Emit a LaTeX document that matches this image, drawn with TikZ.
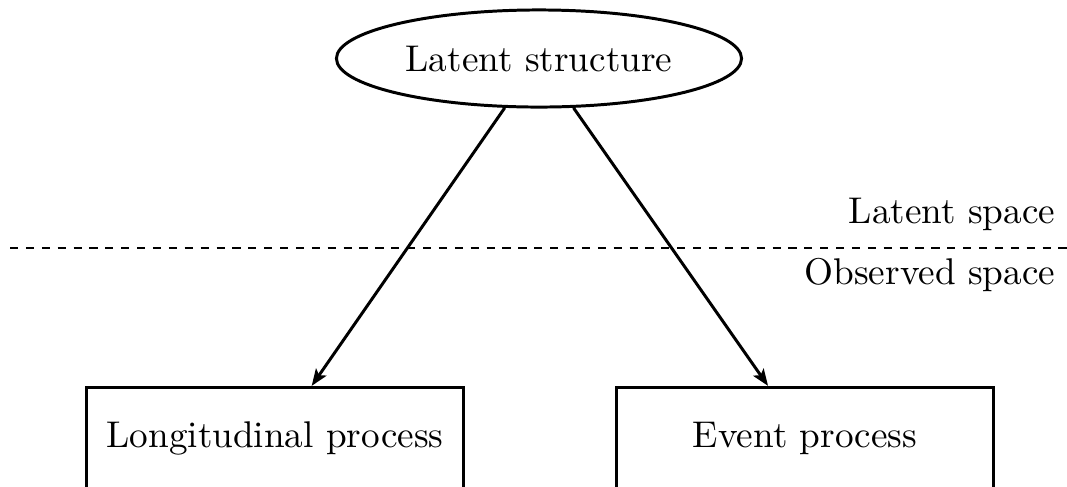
\documentclass[tikz,border=0pt]{standalone}
\usetikzlibrary{arrows.meta,shapes.geometric}

\tikzset{
  latent/.style={ellipse, draw, line width=0.8pt, inner sep=0pt,
    minimum width=108.9pt, minimum height=26.1pt},
  observed/.style={rectangle, draw, line width=0.8pt, inner sep=0pt,
    minimum width=101.1pt, minimum height=27.6pt},
  link/.style={line width=0.8pt, -{Stealth[length=4.5pt,width=3.4pt,inset=1pt]}},
  divider/.style={line width=0.4pt, dash pattern=on 2.2pt off 2.07pt},
  spacelabel/.style={inner sep=0pt, anchor=base east}
}

\begin{document}
\begin{tikzpicture}[x=0.2688pt, y=-0.2688pt]
  % page area
  \clip (0,0) rectangle (1067,486);

  % nodes
  \node[latent] (ls) at (539,58.5) {Latent structure};
  \node[observed] (lp) at (275,438.7) {Longitudinal process};
  \node[observed] (ep) at (805,438.7) {Event process};

  % boundary between the latent and the observed space
  \coordinate (divL) at (10,248);
  \coordinate (divR) at (1085,248);
  \draw[divider] (divL) -- (divR);
  \node[spacelabel] (lsp) at (1056,223) {Latent space};
  \node[spacelabel] (osp) at (1056,284) {Observed space};

  % links
  \draw[link] (ls) -- (lp);
  \draw[link] (ls) -- (ep);
\end{tikzpicture}
\end{document}
